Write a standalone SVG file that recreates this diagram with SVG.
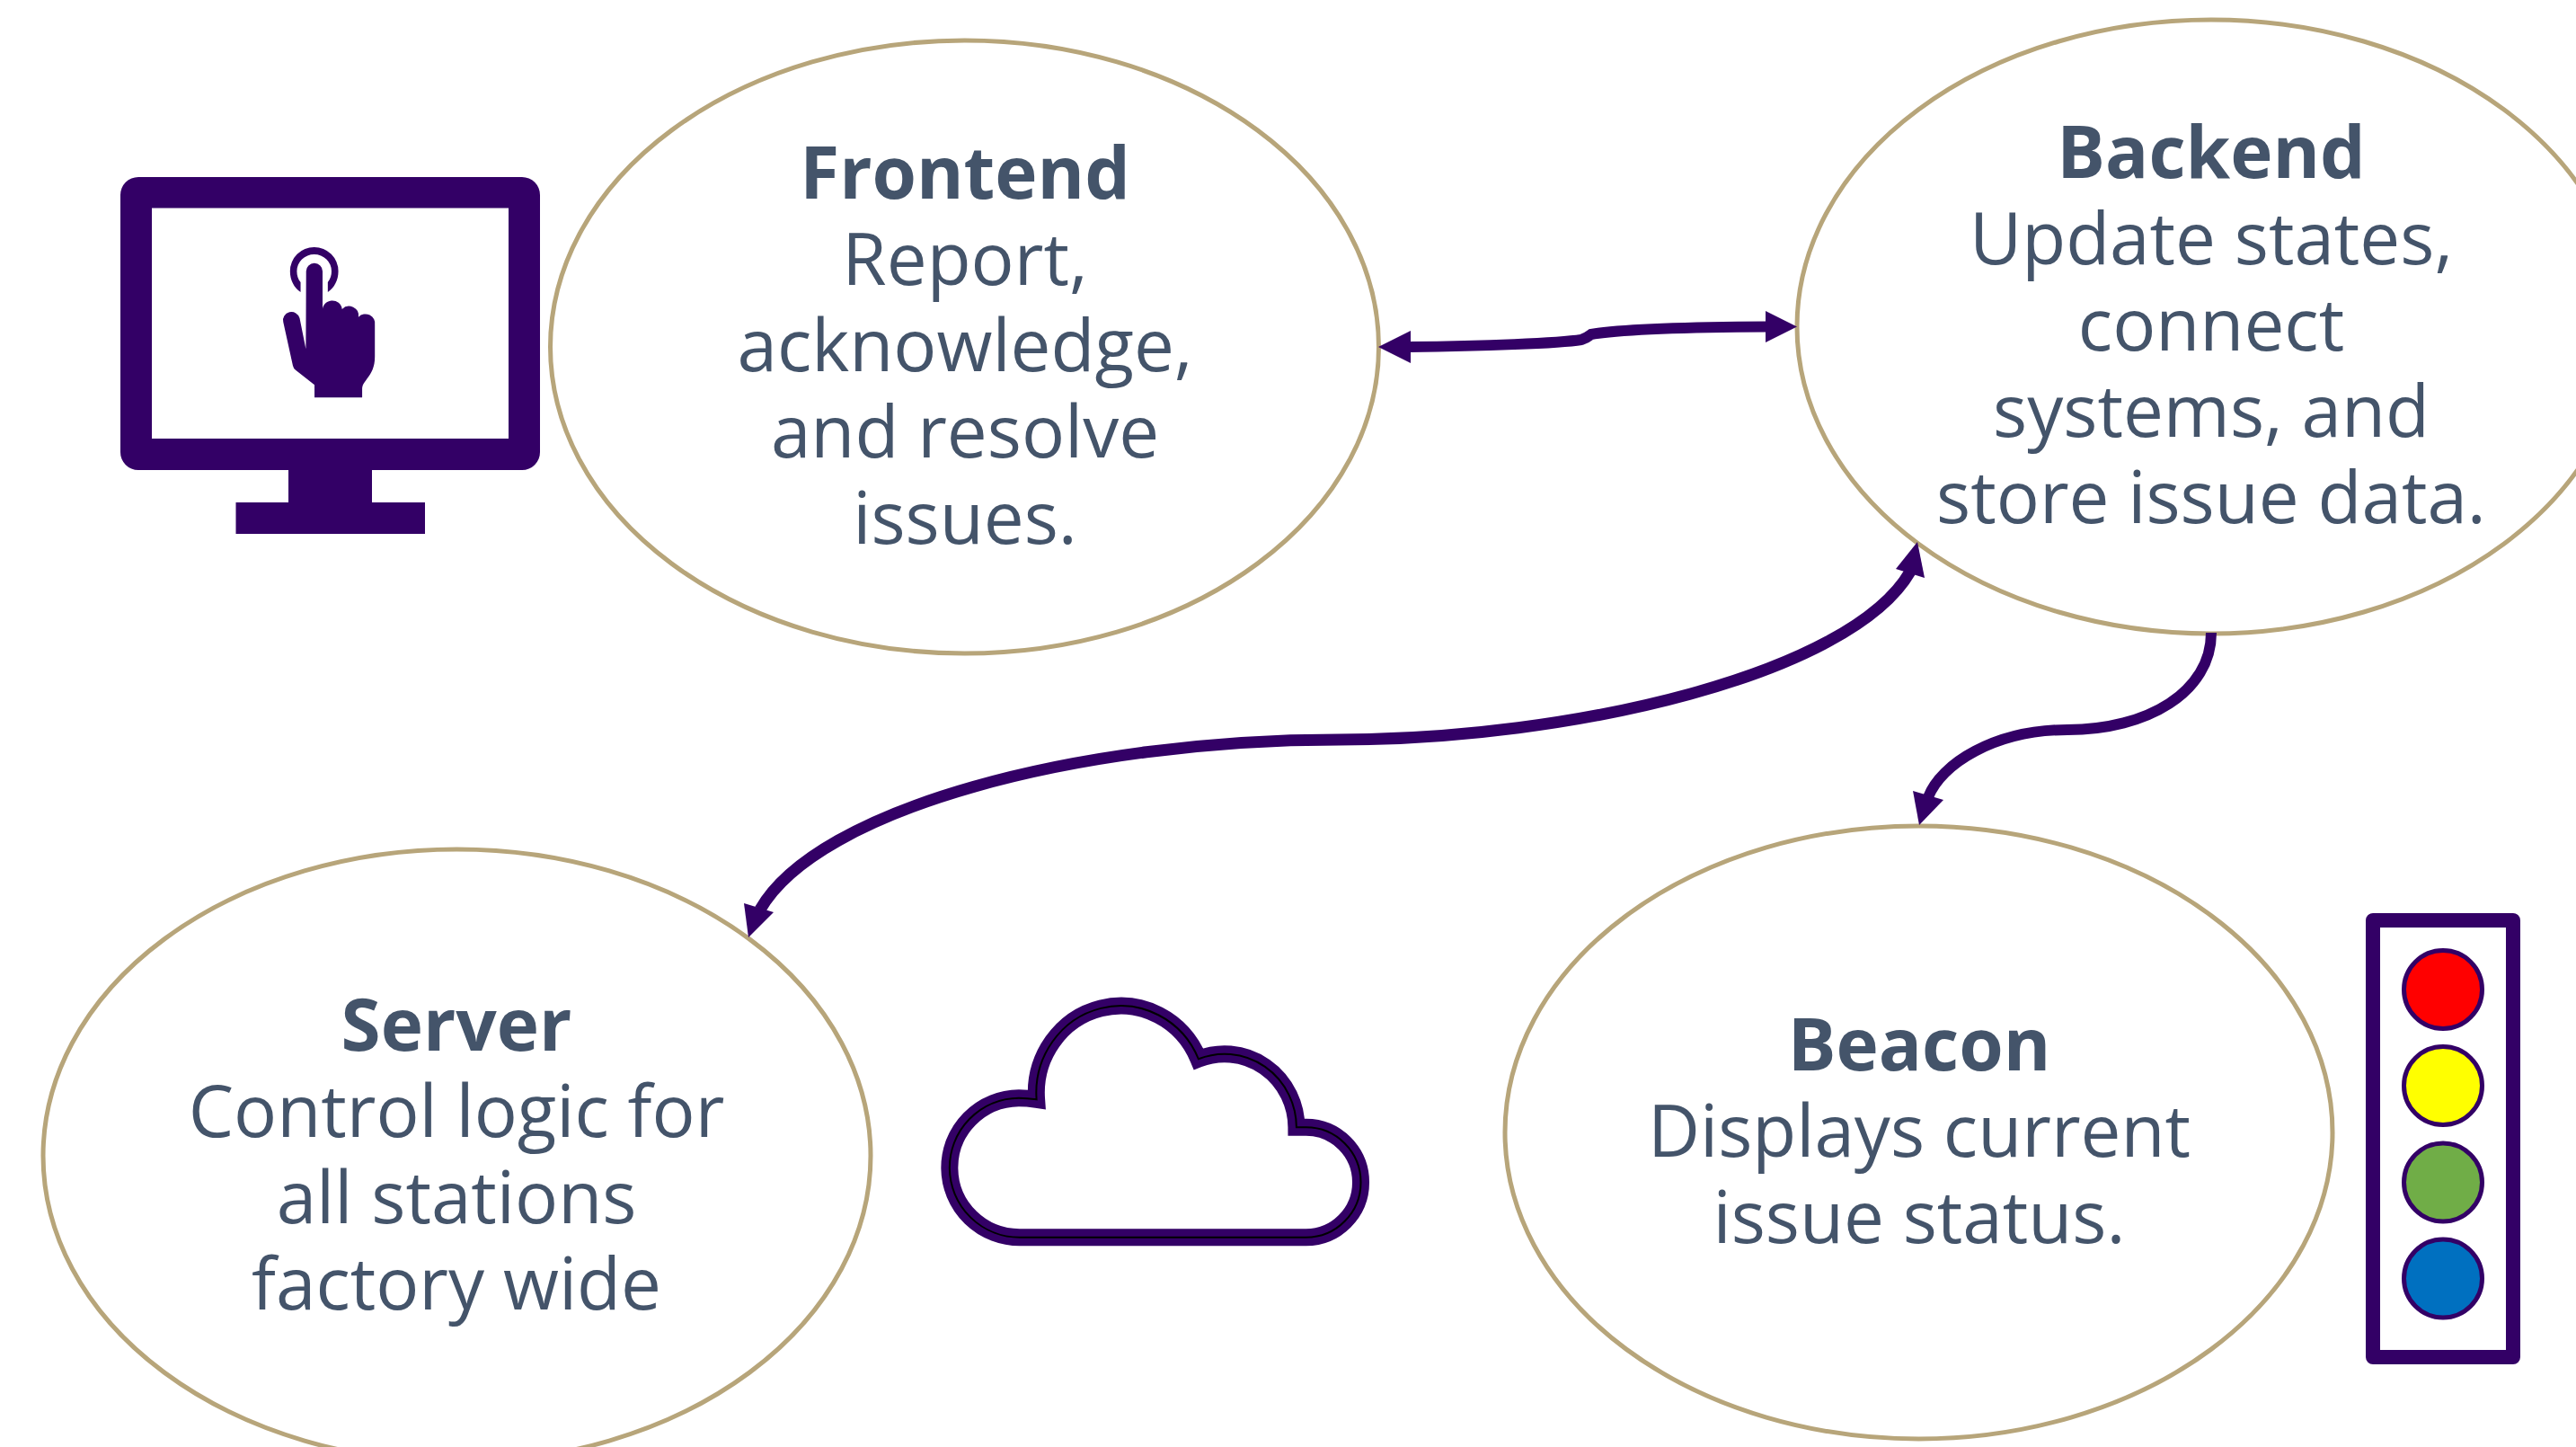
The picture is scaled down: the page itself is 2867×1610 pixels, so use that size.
<svg xmlns="http://www.w3.org/2000/svg" width="2867" height="1610" viewBox="0 0 2867 1610">
<style>
.node{fill:none;stroke:#B7A57A;stroke-width:5}
.t{font-family:"Open Sans","Noto Sans",sans-serif;font-size:80px;fill:#44546A;text-anchor:middle}
.b{font-weight:700}
.p{fill:#330066}
.line{fill:none;stroke:#330066;stroke-width:12}
.lamp{stroke:#330066;stroke-width:5}
</style>
<rect width="2867" height="1610" fill="#FFFFFF"/>
<g id="icon-monitor">
<path class="p" fill-rule="evenodd" d="M154,197H581A20,20 0 0 1 601,217V503A20,20 0 0 1 581,523H414V559H473V594H262.500V559H321V523H154A20,20 0 0 1 134,503V217A20,20 0 0 1 154,197ZM169,231.500V488H566V231.500Z"/>
<g transform="translate(100,170) scale(.3444,.3333)">
<path class="p" d="M681,465C660,450 647,425 647,395A78,80 0 0 1 803,395C803,425 790,450 769,465V432C778,420 781,408 781,395A56,56 0 0 0 669,395C669,410 673,422 681,432Z"/>
<path class="p" d="M699,395A26,26 0 0 1 752,395V528A31,31 0 0 1 815,522A31,31 0 0 1 868,548A31,31 0 0 1 921,575V680C921,715 910,735 895,755C885,770 880,775 880,790V817H726V775L665,725Q658,720 656,710L625,565A27,27 0 0 1 678,552L698,655Z"/>
</g>
</g>
<g id="frontend">
<ellipse class="node" cx="1073.500" cy="386" rx="461" ry="341"/>
<text class="t b" x="1074" y="221">Frontend</text>
<text class="t" x="1074" y="317">Report,</text>
<text class="t" x="1074" y="413">acknowledge,</text>
<text class="t" x="1074" y="509">and resolve</text>
<text class="t" x="1074" y="605">issues.</text>
</g>
<g id="backend">
<ellipse class="node" cx="2461" cy="363.500" rx="461" ry="341.500"/>
<text class="t b" x="2461" y="198">Backend</text>
<text class="t" x="2461" y="294">Update states,</text>
<text class="t" x="2461" y="390">connect</text>
<text class="t" x="2461" y="486">systems, and</text>
<text class="t" x="2461" y="582">store issue data.</text>
</g>
<g id="server">
<ellipse class="node" cx="508.500" cy="1286" rx="460.500" ry="341"/>
<text class="t b" x="508" y="1169">Server</text>
<text class="t" x="508" y="1265">Control logic for</text>
<text class="t" x="508" y="1361">all stations</text>
<text class="t" x="508" y="1457">factory wide</text>
</g>
<g id="beacon">
<ellipse class="node" cx="2135.500" cy="1260" rx="460.500" ry="341"/>
<text class="t b" x="2136" y="1191">Beacon</text>
<text class="t" x="2136" y="1287">Displays current</text>
<text class="t" x="2136" y="1383">issue status.</text>
</g>
<g id="icon-cloud">
<path fill="#FFFFFF" stroke="#330066" stroke-width="19" d="M1135.700,1376.700H1453.600A61,61.200 0 0 0 1453.600,1254.300H1442.900A80,82 0 0 0 1333.900,1178.300A94,97 0 0 0 1153.600,1223.300Q1143,1221.700 1133.900,1221.700A78,77.500 0 0 0 1135.700,1376.700Z"/>
<path fill="none" stroke="#000000" stroke-width="2" d="M1135.700,1376.700H1453.600A61,61.200 0 0 0 1453.600,1254.300H1442.900A80,82 0 0 0 1333.900,1178.300A94,97 0 0 0 1153.600,1223.300Q1143,1221.700 1133.900,1221.700A78,77.500 0 0 0 1135.700,1376.700Z"/>
</g>
<g id="icon-beacon">
<path class="p" fill-rule="evenodd" d="M2641,1016H2797A8,8 0 0 1 2805,1024V1510A8,8 0 0 1 2797,1518H2641A8,8 0 0 1 2633,1510V1024A8,8 0 0 1 2641,1016ZM2649,1032V1502H2789V1032Z"/>
<circle class="lamp" cx="2719" cy="1101" r="43.500" fill="#FF0000"/>
<circle class="lamp" cx="2719" cy="1208" r="43.500" fill="#FFFF00"/>
<circle class="lamp" cx="2719" cy="1315.500" r="43.500" fill="#70AD47"/>
<circle class="lamp" cx="2719" cy="1422.500" r="43.500" fill="#0070C0"/>
</g>
<g id="connectors">
<path class="line" d="M1568,386C1650,385 1735,382 1760,378Q1766,376 1771,372C1800,367 1880,364 1967,363.500"/>
<polygon class="p" points="1570,368 1534,386 1570,404"/>
<polygon class="p" points="1965,346 2000,363.500 1965,381"/>
<path class="line" style="stroke-width:13" d="M2126,636C2060,750 1750,823 1490,823C1200,823 910,900 846,1012"/>
<polygon class="p" points="2134,603 2110,633 2142,643"/>
<polygon class="p" points="833,1043 828,1005 861,1015"/>
<path class="line" d="M2461,704C2461,770 2390,812 2301,812C2220,812 2160,850 2146,887"/>
<polygon class="p" points="2136,918 2129,880 2163,890"/>
</g>
</svg>
